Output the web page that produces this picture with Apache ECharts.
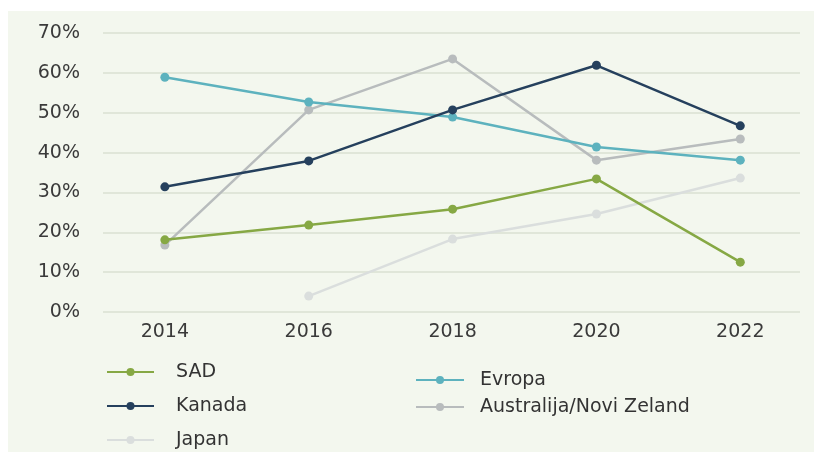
<!DOCTYPE html>
<html>
<head>
<meta charset="utf-8">
<script src="https://cdn.jsdelivr.net/npm/echarts@6/dist/echarts.min.js"></script>
<style>
  html, body { margin: 0; padding: 0; background: #ffffff; }
  #chart { width: 814px; height: 452px; }
</style>
</head>
<body>
<div id="chart"></div>
<script>
// Survey years and share of respondents per region (percent)
var years = [2014, 2016, 2018, 2020, 2022];
var sad = [18.1, 21.8, 25.8, 33.4, 12.5];
var kanada = [31.4, 37.9, 50.7, 61.9, 46.7];
var evropa = [58.9, 52.7, 48.9, 41.4, 38.1];
var australija = [16.8, 50.7, 63.5, 38.1, 43.4];
var japan = [null, 4.0, 18.3, 24.6, 33.6];
var yTicks = [0, 10, 20, 30, 40, 50, 60, 70];

function pairs(vals) {
  return years.map(function (y, i) { return [y, vals[i]]; });
}

function lineSeries(name, vals, color) {
  return {
    name: name,
    type: 'line',
    data: pairs(vals),
    symbol: 'circle',
    symbolSize: 9,
    connectNulls: false,
    lineStyle: { color: color, width: 2.5 },
    itemStyle: { color: color },
    emphasis: { disabled: true }
  };
}

var chart = echarts.init(document.getElementById('chart'), null, { renderer: 'canvas' });
var labelFont = 'DejaVu Sans';

function legendText(padLeft) {
  return { color: '#333333', fontFamily: labelFont, fontSize: 19, lineHeight: 20, padding: [0, 0, 0, padLeft] };
}

chart.setOption({
  animation: false,
  backgroundColor: '#ffffff',
  graphic: [{
    type: 'rect',
    z: -10,
    shape: { x: 8, y: 11, width: 806, height: 441 },
    style: { fill: '#f3f7ee' }
  }],
  grid: { left: 103, right: 14, top: 33, height: 279 },
  xAxis: {
    type: 'value',
    min: 2013.14,
    max: 2022.83,
    splitLine: { show: false },
    axisLine: { show: false },
    axisTick: { show: false },
    axisLabel: {
      customValues: years,
      color: '#3a3a3a',
      fontFamily: labelFont,
      fontSize: 19,
      margin: 11,
      formatter: function (v) { return String(v); }
    }
  },
  yAxis: {
    type: 'value',
    min: yTicks[0],
    max: yTicks[yTicks.length - 1],
    interval: 10,
    axisLine: { show: false },
    axisTick: { show: false },
    splitLine: { lineStyle: { color: '#e0e6d9', width: 2 } },
    axisLabel: {
      color: '#3a3a3a',
      fontFamily: labelFont,
      fontSize: 19,
      margin: 23,
      formatter: '{value}%'
    }
  },
  legend: [{
    orient: 'vertical',
    left: 106,
    top: 362,
    padding: 0,
    itemWidth: 47,
    itemHeight: 10,
    itemGap: 14,
    data: ['SAD', 'Kanada', 'Japan'],
    textStyle: legendText(17)
  }, {
    orient: 'vertical',
    left: 415,
    top: 370,
    padding: 0,
    itemWidth: 48,
    itemHeight: 10,
    itemGap: 7,
    data: ['Evropa', 'Australija/Novi Zeland'],
    textStyle: legendText(11)
  }],
  series: [
    lineSeries('Japan', japan, '#dadedd'),
    lineSeries('Australija/Novi Zeland', australija, '#b8bcbd'),
    lineSeries('Evropa', evropa, '#5db2be'),
    lineSeries('SAD', sad, '#86a844'),
    lineSeries('Kanada', kanada, '#25405d')
  ]
});
</script>
</body>
</html>
